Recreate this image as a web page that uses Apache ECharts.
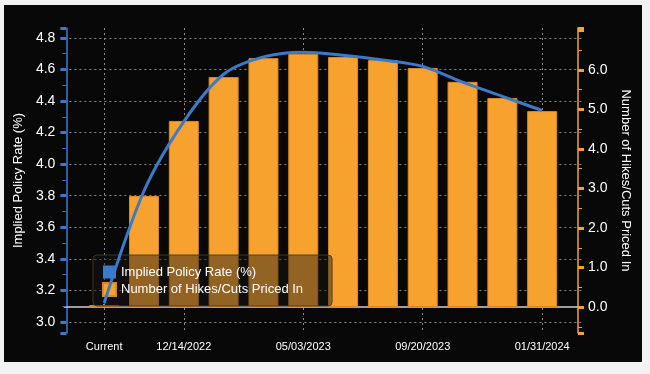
<!DOCTYPE html>
<html>
<head>
<meta charset="utf-8">
<script src="https://cdn.jsdelivr.net/npm/echarts@6/dist/echarts.min.js"></script>
<style>
  html, body { margin: 0; padding: 0; background: #f2f2f2; width: 650px; height: 374px; overflow: hidden; }
  #chart { position: absolute; left: 4px; top: 5px; width: 638px; height: 357px; }
</style>
</head>
<body>
<div id="chart"></div>
<script>
const categories = ['Current', '11/02/2022', '12/14/2022', '02/01/2023', '03/22/2023', '05/03/2023',
  '06/14/2023', '07/26/2023', '09/20/2023', '11/01/2023', '12/13/2023', '01/31/2024'];
const labeledCategories = ['Current', '12/14/2022', '05/03/2023', '09/20/2023', '01/31/2024'];
const impliedRate = [3.12, 3.83, 4.27, 4.57, 4.68, 4.71, 4.69, 4.66, 4.62, 4.52, 4.43, 4.34];
const hikesPriced = [0, 2.81, 4.71, 5.82, 6.30, 6.41, 6.33, 6.25, 6.05, 5.70, 5.29, 4.96];
const leftTickLabels = ['3.0', '3.2', '3.4', '3.6', '3.8', '4.0', '4.2', '4.4', '4.6', '4.8'];
const rightTickLabels = ['0.0', '1.0', '2.0', '3.0', '4.0', '5.0', '6.0'];
const seriesNames = ['Implied Policy Rate (%)', 'Number of Hikes/Cuts Priced In'];

const FONT = "'Liberation Sans', Arial, Helvetica, sans-serif";
const BLUE = '#3b7acb';
const ORANGE = '#f7a22e';

// pad one empty slot on each side of the category axis
const axisData = [''].concat(categories, ['']);
const pad = arr => [null].concat(arr, [null]);
const showIdx = (i, v) => labeledCategories.indexOf(v) >= 0;
const fmtFrom = list => v => { const s = v.toFixed(1); return list.indexOf(s) >= 0 ? s : ''; };

const chart = echarts.init(document.getElementById('chart'));
chart.setOption({
  backgroundColor: '#080808',
  animation: false,
  textStyle: { fontFamily: FONT },
  grid: { left: 59, right: 60, top: 23, bottom: 29, containLabel: false },
  legend: {
    orient: 'vertical',
    left: 89, top: 250,
    icon: 'rect',
    itemWidth: 13, itemHeight: 13, itemGap: 3,
    padding: [10, 29, 9, 9],
    backgroundColor: 'rgba(22,22,22,0.45)',
    borderColor: 'rgba(70,55,35,0.9)', borderWidth: 1, borderRadius: 4,
    textStyle: { color: '#ffffff', fontSize: 13, lineHeight: 14, fontFamily: FONT },
    z: 2,
    data: seriesNames
  },
  xAxis: {
    type: 'category',
    data: axisData,
    boundaryGap: false,
    axisLine: { lineStyle: { color: '#d0d0d0', width: 1.5 } },
    axisTick: { show: true, interval: showIdx, inside: true, length: 3, lineStyle: { color: '#ffffff', width: 2 } },
    axisLabel: { interval: showIdx, color: '#ffffff', fontSize: 11, margin: 8, fontFamily: FONT },
    splitLine: { show: true, interval: showIdx, lineStyle: { color: '#8a8a8a', type: [2, 3], width: 1 } }
  },
  yAxis: [
    {
      type: 'value',
      min: 2.93, max: 4.863, splitNumber: 10,
      offset: -2,
      name: seriesNames[0], nameLocation: 'middle', nameGap: 37,
      nameTextStyle: { color: '#ffffff', fontSize: 13, fontFamily: FONT },
      axisLine: { show: true, lineStyle: { color: BLUE, width: 1.5 } },
      axisTick: { show: true, length: 6, lineStyle: { color: BLUE, width: 3 } },
      minorTick: { show: true, splitNumber: 2, length: 4, lineStyle: { color: BLUE, width: 1 } },
      axisLabel: { color: '#ffffff', fontSize: 14, margin: 11, showMinLabel: false, showMaxLabel: false,
        formatter: fmtFrom(leftTickLabels), fontFamily: FONT },
      splitLine: { show: true, showMinLine: false, showMaxLine: false,
        lineStyle: { color: '#8a8a8a', type: [2, 3], width: 1 } }
    },
    {
      type: 'value',
      min: -0.658, max: 7.063, splitNumber: 7,
      offset: -4,
      name: seriesNames[1], nameLocation: 'middle', nameGap: 41, nameRotate: -90,
      nameTextStyle: { color: '#ffffff', fontSize: 13, fontFamily: FONT },
      axisLine: { show: true, lineStyle: { color: ORANGE, width: 1.5 } },
      axisTick: { show: true, length: 6, lineStyle: { color: ORANGE, width: 3 } },
      minorTick: { show: true, splitNumber: 2, length: 4, lineStyle: { color: ORANGE, width: 1 } },
      axisLabel: { color: '#ffffff', fontSize: 14, margin: 10, showMinLabel: false, showMaxLabel: false,
        formatter: fmtFrom(rightTickLabels), fontFamily: FONT },
      splitLine: { show: false }
    }
  ],
  series: [
    {
      name: seriesNames[1],
      type: 'bar',
      yAxisIndex: 1,
      data: pad(hikesPriced),
      barWidth: 30,
      barMinHeight: 2,
      itemStyle: { color: ORANGE, borderColor: '#d98a22', borderWidth: 1 },
      z: 1
    },
    {
      name: seriesNames[0],
      type: 'line',
      yAxisIndex: 0,
      data: pad(impliedRate),
      smooth: 0.3,
      showSymbol: false,
      symbol: 'none',
      connectNulls: false,
      itemStyle: { color: BLUE },
      lineStyle: { color: BLUE, width: 3 },
      z: 3
    }
  ]
});
</script>
</body>
</html>
